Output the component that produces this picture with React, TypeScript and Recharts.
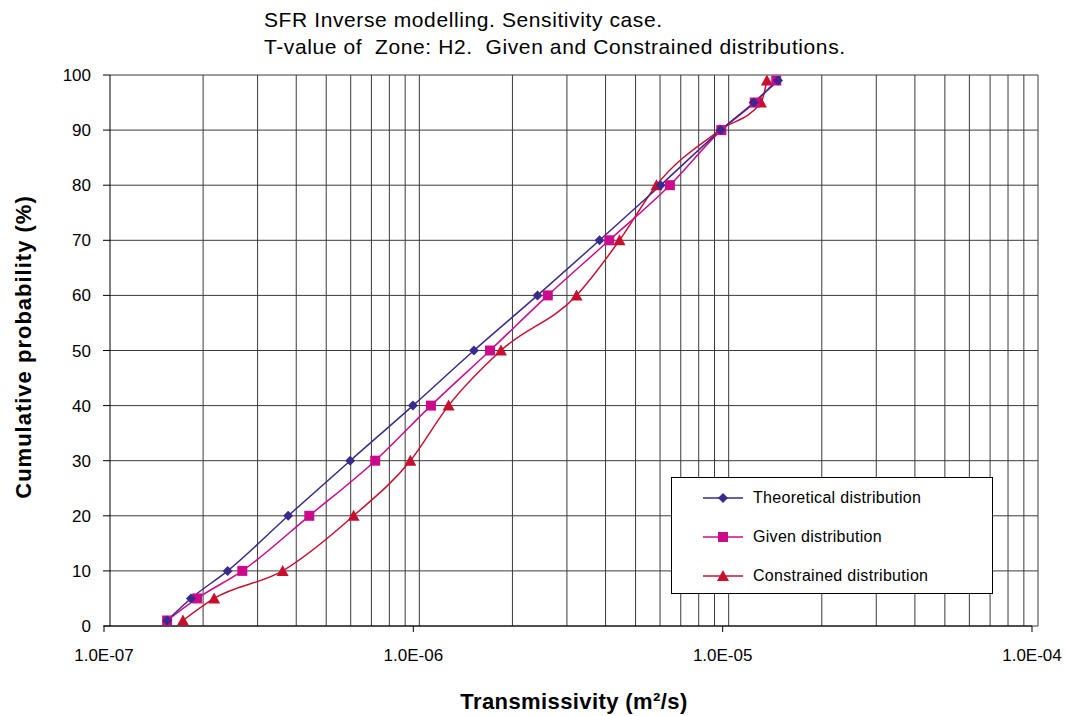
import React from "react"
import { LineChart, Line, XAxis, YAxis, ReferenceLine } from "recharts"

const probabilities = [1, 5, 10, 20, 30, 40, 50, 60, 70, 80, 90, 95, 99]

const theoreticalT = [1.6e-7, 1.91e-7, 2.51e-7, 3.94e-7, 6.25e-7, 9.97e-7, 1.57e-6, 2.52e-6, 4.0e-6, 6.3e-6, 9.86e-6, 1.26e-5, 1.51e-5]
const givenT = [1.6e-7, 2.0e-7, 2.8e-7, 4.61e-7, 7.53e-7, 1.14e-6, 1.77e-6, 2.72e-6, 4.3e-6, 6.75e-6, 9.9e-6, 1.27e-5, 1.49e-5]
const constrainedT = [1.8e-7, 2.27e-7, 3.78e-7, 6.41e-7, 9.78e-7, 1.3e-6, 1.92e-6, 3.37e-6, 4.64e-6, 6.11e-6, 9.8e-6, 1.33e-5, 1.39e-5]

const xTicks = [1e-7, 1e-6, 1e-5, 1e-4]
const xTickLabels = ["1.0E-07", "1.0E-06", "1.0E-05", "1.0E-04"]
const yTicks = [0, 10, 20, 30, 40, 50, 60, 70, 80, 90, 100]
const decades = [1e-7, 1e-6, 1e-5]
const multipliers = [1, 2, 3, 4, 5, 6, 7, 8, 9]

const FONT = "'Liberation Sans', Arial, sans-serif"
const BLUE = "#3b2a8c"
const MAGENTA = "#cc0a8c"
const RED = "#c8102e"
const GRID = "#3a3a3a"
// the printed grid sits a few px right of the tick scale
const GRID_SHIFT = 6

const toRows = (ts: number[]) => ts.map((t, i) => ({ t, p: probabilities[i] }))

const theoretical = toRows(theoreticalT)
const given = toRows(givenT)
const constrained = toRows(constrainedT)

const gridX = decades.flatMap((d) => multipliers.map((m) => d * m)).concat([1e-4])

function Marker({ kind, cx, cy, color }: { kind: string; cx: number; cy: number; color: string }) {
  if (kind === "diamond") {
    return <path d={`M${cx},${cy - 5} L${cx + 5},${cy} L${cx},${cy + 5} L${cx - 5},${cy} Z`} fill={color} />
  }
  if (kind === "square") {
    return <rect x={cx - 5} y={cy - 5} width={10} height={10} fill={color} />
  }
  return <path d={`M${cx},${cy - 6} L${cx + 6},${cy + 5} L${cx - 6},${cy + 5} Z`} fill={color} />
}

const dotFor = (kind: string, color: string) => (props: any) => {
  const { cx, cy, index } = props
  if (cx == null || cy == null) return <g key={index} />
  return <Marker key={index} kind={kind} cx={cx} cy={cy} color={color} />
}

const shiftedLine = (color: string) => (props: any) => {
  const { x1, y1, x2, y2 } = props
  if (x1 == null) return <g />
  return <line x1={x1 + GRID_SHIFT} y1={y1} x2={x2 + GRID_SHIFT} y2={y2} stroke={color} strokeWidth={1} />
}

function YTick(props: any) {
  const { x, y, payload } = props
  return (
    <g>
      <line x1={x - 1} y1={y} x2={x + GRID_SHIFT} y2={y} stroke="#000" strokeWidth={1} />
      <text x={x - 13} y={y} dy={6} textAnchor="end" fill="#000" fontSize={17} fontFamily={FONT}>
        {payload.value}
      </text>
    </g>
  )
}

const legendItems = [
  { label: "Theoretical distribution", kind: "diamond", color: BLUE },
  { label: "Given distribution", kind: "square", color: MAGENTA },
  { label: "Constrained distribution", kind: "triangle", color: RED },
]

function LegendBox() {
  return (
    <div
      style={{
        position: "absolute",
        left: 671,
        top: 477,
        width: 322,
        height: 117,
        border: "1px solid #000",
        background: "#fff",
        boxSizing: "border-box",
        fontFamily: FONT,
        fontSize: 16,
        letterSpacing: 0.3,
        color: "#000",
      }}
    >
      {legendItems.map((it, i) => (
        <div key={it.label} style={{ position: "absolute", left: 31, top: 9 + i * 39, height: 22, display: "flex", alignItems: "center" }}>
          <svg width={40} height={14}>
            <line x1={0} y1={7} x2={40} y2={7} stroke={it.color} strokeWidth={1.5} />
            <Marker kind={it.kind} cx={20} cy={7} color={it.color} />
          </svg>
          <span style={{ marginLeft: 10 }}>{it.label}</span>
        </div>
      ))}
    </div>
  )
}

export default function App() {
  return (
    <div style={{ position: "absolute", left: 0, top: 0, width: 1066, height: 716, background: "#fff", fontFamily: FONT }}>
      <div
        style={{
          position: "absolute",
          left: 264,
          top: 6,
          fontSize: 21,
          letterSpacing: 0.6,
          lineHeight: "27px",
          color: "#000",
          whiteSpace: "pre",
        }}
      >
        {"SFR Inverse modelling. Sensitivity case.\nT-value of  Zone: H2.  Given and Constrained distributions."}
      </div>
      <div
        style={{
          position: "absolute",
          left: 24,
          top: 347,
          transform: "translate(-50%, -50%) rotate(-90deg)",
          fontSize: 22,
          letterSpacing: 1,
          fontWeight: "bold",
          whiteSpace: "nowrap",
        }}
      >
        Cumulative probability (%)
      </div>
      <div
        style={{
          position: "absolute",
          left: 574,
          top: 702,
          transform: "translate(-50%, -50%)",
          fontSize: 22,
          letterSpacing: 0.4,
          fontWeight: "bold",
          whiteSpace: "nowrap",
        }}
      >
        Transmissivity (m²/s)
      </div>
      <div style={{ position: "absolute", left: 0, top: 0 }}>
        <LineChart width={1066} height={716} margin={{ top: 75, right: 34, bottom: 50, left: 44 }}>
          {yTicks.map((y) => (
            <ReferenceLine key={"h" + y} y={y} shape={shiftedLine(GRID)} ifOverflow="visible" />
          ))}
          {gridX.map((x) => (
            <ReferenceLine key={"v" + x} x={x} shape={shiftedLine(x === 1e-7 ? "#000" : GRID)} ifOverflow="visible" />
          ))}
          <XAxis
            type="number"
            dataKey="t"
            scale="log"
            domain={[1e-7, 1e-4]}
            ticks={xTicks}
            interval={0}
            allowDataOverflow
            tickFormatter={(v: number) => xTickLabels[xTicks.findIndex((x) => Math.abs(Math.log10(x) - Math.log10(v)) < 0.01)] ?? ""}
            height={40}
            stroke="#000"
            tickSize={6}
            tick={{ fill: "#000", fontSize: 17, fontFamily: FONT, dy: 15 }}
          />
          <YAxis
            type="number"
            dataKey="p"
            domain={[0, 100]}
            ticks={yTicks}
            interval={0}
            width={60}
            axisLine={false}
            tickLine={false}
            tickSize={0}
            tickMargin={0}
            tick={<YTick />}
          />
          <Line
            data={constrained}
            dataKey="p"
            type="monotone"
            stroke={RED}
            strokeWidth={1.5}
            dot={dotFor("triangle", RED)}
            isAnimationActive={false}
          />
          <Line
            data={given}
            dataKey="p"
            type="monotone"
            stroke={MAGENTA}
            strokeWidth={1.5}
            dot={dotFor("square", MAGENTA)}
            isAnimationActive={false}
          />
          <Line
            data={theoretical}
            dataKey="p"
            type="monotone"
            stroke={BLUE}
            strokeWidth={1.5}
            dot={dotFor("diamond", BLUE)}
            isAnimationActive={false}
          />
        </LineChart>
      </div>
      <LegendBox />
    </div>
  )
}
